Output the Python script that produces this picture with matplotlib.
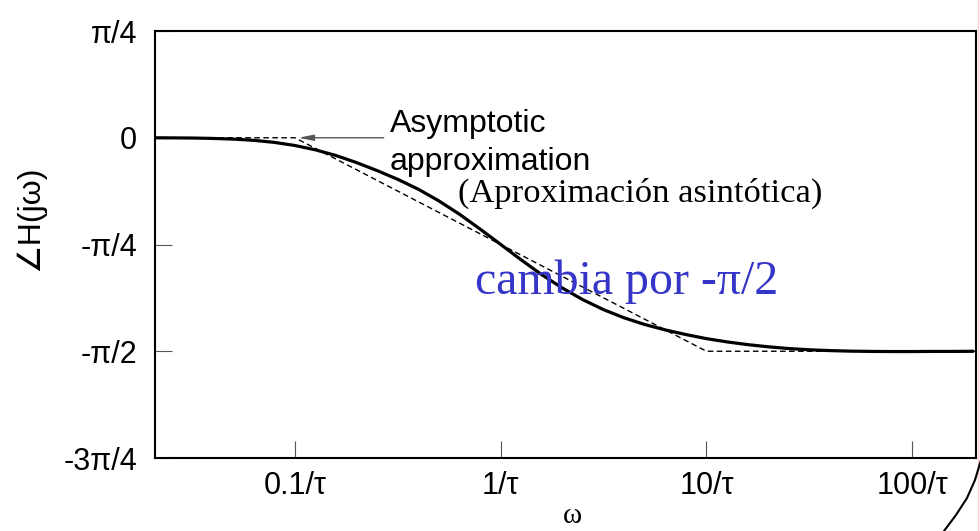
import numpy as np
import matplotlib
matplotlib.use("Agg")
import matplotlib.pyplot as plt
from matplotlib.lines import Line2D

# Frequency samples (in units of 1/tau) and phase of H(jw) in radians
omega = [10 ** (k / 10) for k in range(-17, 24)]
phase = [0.000, -0.001, -0.002, -0.005, -0.010, -0.019, -0.034, -0.057,
         -0.089, -0.131, -0.183, -0.242, -0.306, -0.379, -0.465, -0.563,
         -0.672, -0.785, -0.899, -1.008, -1.106, -1.192, -1.265, -1.325,
         -1.374, -1.414, -1.448, -1.478, -1.502, -1.522, -1.538, -1.551,
         -1.560, -1.566, -1.570, -1.572, -1.573, -1.573, -1.572, -1.572,
         -1.571]

# Straight-line (asymptotic) approximation
asym_omega = [0.0209, 0.1, 10.0, 204.0]
asym_phase = [0.0, 0.0, -np.pi / 2, -np.pi / 2]

xticks = [0.1, 1, 10, 100]
xticklabels = ["0.1/τ", "1/τ", "10/τ", "100/τ"]
yticks = [np.pi / 4, 0, -np.pi / 4, -np.pi / 2, -3 * np.pi / 4]
yticklabels = ["π/4", "0", "-π/4", "-π/2", "-3π/4"]

sans = ["Liberation Sans", "DejaVu Sans"]
serif = ["Liberation Serif", "DejaVu Serif"]

fig = plt.figure(figsize=(9.8, 5.31), dpi=100)
ax = fig.add_axes([155 / 980, 1 - 458 / 531, (976 - 155) / 980, (458 - 31) / 531])

ax.plot(asym_omega, asym_phase, color="black", lw=1.0, ls=(0, (4, 2.5)))
ax.plot(omega, phase, color="black", lw=2.3, solid_capstyle="butt",
        solid_joinstyle="round")

ax.set_xscale("log")
ax.set_xlim(0.0209, 204.0)
ax.set_ylim(-3 * np.pi / 4, np.pi / 4)
ax.minorticks_off()

ax.set_xticks(xticks)
ax.set_xticklabels(xticklabels, family=sans, fontsize=22)
ax.set_yticks(yticks)
ax.set_yticklabels(yticklabels, family=sans, fontsize=22)
ax.tick_params(axis="x", direction="in", length=12, width=0.8, color="#555555", pad=9)
ax.tick_params(axis="y", direction="in", length=12, width=0.8, color="#555555", pad=13)

for s in ax.spines.values():
    s.set_linewidth(1.5)
    s.set_color("black")

# Annotation with arrow pointing at the asymptote
ax.annotate("", xy=(0.104, 0.0), xytext=(0.27, 0.0),
            arrowprops=dict(arrowstyle="-|>,head_length=0.9,head_width=0.18",
                            color="#555555", lw=1.0, shrinkA=0, shrinkB=0))
ax.text(0.29, 0.044, "Asymptotic", family=sans, fontsize=23,
        ha="left", va="baseline")
ax.text(0.29, -0.234, "approximation", family=sans, fontsize=23,
        ha="left", va="baseline")
ax.text(0.62, -0.47, "(Aproximación asintótica)", family=serif, fontsize=24.8,
        ha="left", va="baseline")
ax.text(0.748, -1.15, "cambia por -π/2", family=serif, fontsize=34.5,
        ha="left", va="baseline", color="#3535c8")

# Axis labels
fig.text(572 / 980, 1 - 516 / 531, "ω", family=serif, fontsize=21,
         ha="center", va="center")
fig.text(30 / 980, 1 - 218 / 531, "∠H(jω)", family=sans, fontsize=23,
         rotation=90, ha="center", va="center")

# Page edge on the right
fig.add_artist(Line2D([978 / 980, 978 / 980], [0, 1], transform=fig.transFigure,
                      color="#ffcccc", lw=1.0))
cx = np.array([944, 956, 967, 975, 981])
cy = np.array([531, 515, 498, 480, 460])
fig.add_artist(Line2D(cx / 980, 1 - cy / 531, transform=fig.transFigure,
                      color="black", lw=1.5))

fig.savefig("out.png", dpi=100)
